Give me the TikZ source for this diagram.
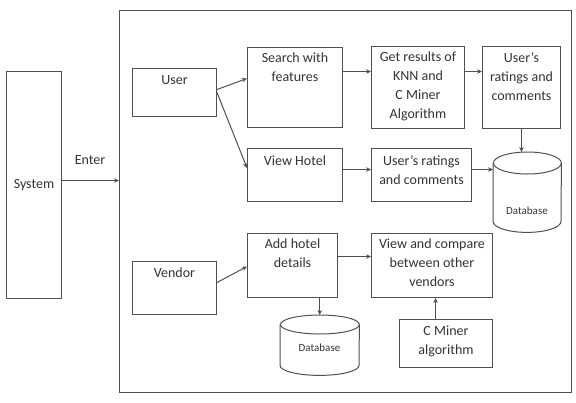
\documentclass[tikz,border=0pt]{standalone}
\usepackage{fontspec}
\setmainfont{Carlito}
\usetikzlibrary{arrows.meta,calc}
\definecolor{ln}{HTML}{505050}
\definecolor{tx}{HTML}{333333}
\tikzset{
  box/.style={draw=ln, line width=1pt, anchor=north west, inner sep=0pt},
  txt/.style={text=tx, font=\fontsize{14}{19}\selectfont, align=center, inner sep=0pt, anchor=north},
  dbtxt/.style={text=tx, font=\fontsize{11}{13}\selectfont, inner sep=0pt},
  arr/.style={draw=ln, line width=1pt, -{Stealth[length=5pt,width=4.5pt]}},
  dbshape/.style={draw=ln, line width=1pt},
}
\begin{document}
\begin{tikzpicture}[x=1pt,y=-1pt]
\useasboundingbox (0,0) rectangle (576,402);
% boxes
\node[box, minimum width=55, minimum height=227] (sys) at (6,71) {};
\node[box, minimum width=452, minimum height=382] (outer) at (119,10) {};
\node[box, minimum width=84, minimum height=48] (user) at (132,68) {};
\node[box, minimum width=95, minimum height=80] (search) at (247,47) {};
\node[box, minimum width=93, minimum height=82] (knn) at (371,46) {};
\node[box, minimum width=78, minimum height=82] (rate1) at (482,46) {};
\node[box, minimum width=95, minimum height=53] (view) at (247,148) {};
\node[box, minimum width=100, minimum height=53] (rate2) at (371,148) {};
\node[box, minimum width=84, minimum height=53] (vendor) at (132,261) {};
\node[box, minimum width=90, minimum height=64] (add) at (247,233) {};
\node[box, minimum width=121, minimum height=64] (cmp) at (371,233) {};
\node[box, minimum width=93, minimum height=48] (cminer) at (399,319) {};
\node[anchor=north west, inner sep=0pt, minimum width=68, minimum height=80] (db1) at (493,152) {};
\node[anchor=north west, inner sep=0pt, minimum width=79, minimum height=60] (db2) at (280,315) {};
% cylinders
\draw[dbshape] ([yshift=-11pt]db1.north east) arc[start angle=0, end angle=360, x radius=34pt, y radius=11pt];
\draw[dbshape] ([yshift=-11pt]db1.north west) -- ([yshift=11pt]db1.south west) arc[start angle=180, end angle=360, x radius=34pt, y radius=11pt] -- ([yshift=-11pt]db1.north east);
\draw[dbshape] ([yshift=-9.5pt]db2.north east) arc[start angle=0, end angle=360, x radius=39.5pt, y radius=9.5pt];
\draw[dbshape] ([yshift=-9.5pt]db2.north west) -- ([yshift=10pt]db2.south west) arc[start angle=180, end angle=360, x radius=39.5pt, y radius=10pt] -- ([yshift=-9.5pt]db2.north east);
% texts
\node[txt, anchor=center] (systxt) at (sys.center) {System};
\node[txt, anchor=center] (entertxt) at (90,160) {Enter};
\node[txt] (usertxt) at ([yshift=-7pt]user.north) {User};
\node[txt] (searchtxt) at ([yshift=-6pt]search.north) {Search with\\features};
\node[txt] (knntxt) at ([yshift=-6pt]knn.north) {Get results of\\KNN and\\C Miner\\Algorithm};
\node[txt] (rate1txt) at ([yshift=-6pt]rate1.north) {User’s\\ratings and\\comments};
\node[txt] (viewtxt) at ([yshift=-8pt]view.north) {View Hotel};
\node[txt] (rate2txt) at ([yshift=-7pt]rate2.north) {User’s ratings\\and comments};
\node[txt] (vendortxt) at ([yshift=-7pt]vendor.north) {Vendor};
\node[txt] (addtxt) at ([yshift=-5.5pt]add.north) {Add hotel\\details};
\node[txt] (cmptxt) at ([yshift=-5.5pt]cmp.north) {View and compare\\between other\\vendors};
\node[txt] (cminertxt) at ([yshift=-7pt]cminer.north) {C Miner\\algorithm};
\node[dbtxt] (db1txt) at (527,211) {Database};
\node[dbtxt] (db2txt) at (319.5,348) {Database};
% arrows
\draw[arr] ([yshift=4.5pt]sys.east) -- ([yshift=4.5pt]sys.east -| outer.west);
\draw[arr] ([yshift=3pt]user.east) -- ([yshift=9pt]search.west);
\draw[arr] (user.east) -- ([yshift=7pt]view.west);
\draw[arr] ([yshift=16pt]search.east) -- ([yshift=16pt]search.east -| knn.west);
\draw[arr] ([yshift=16pt]knn.east) -- ([yshift=16pt]knn.east -| rate1.west);
\draw[arr] ([yshift=5.5pt]view.east) -- ([yshift=5.5pt]view.east -| rate2.west);
\draw[arr] ([yshift=5.5pt]rate2.east) -- ([yshift=5.5pt]rate2.east -| db1.west);
\draw[arr] (rate1.south) -- (rate1.south |- db1.north);
\draw[arr] ([yshift=5.5pt]vendor.east) -- ([yshift=-1pt]add.west);
\draw[arr] ([yshift=9pt]add.east) -- ([yshift=9pt]add.east -| cmp.west);
\draw[arr] (db2.north |- add.south) -- (db2.north);
\draw[arr] ([xshift=-10.5pt]cminer.north) -- ([xshift=-10.5pt]cminer.north |- cmp.south);
\end{tikzpicture}
\end{document}
